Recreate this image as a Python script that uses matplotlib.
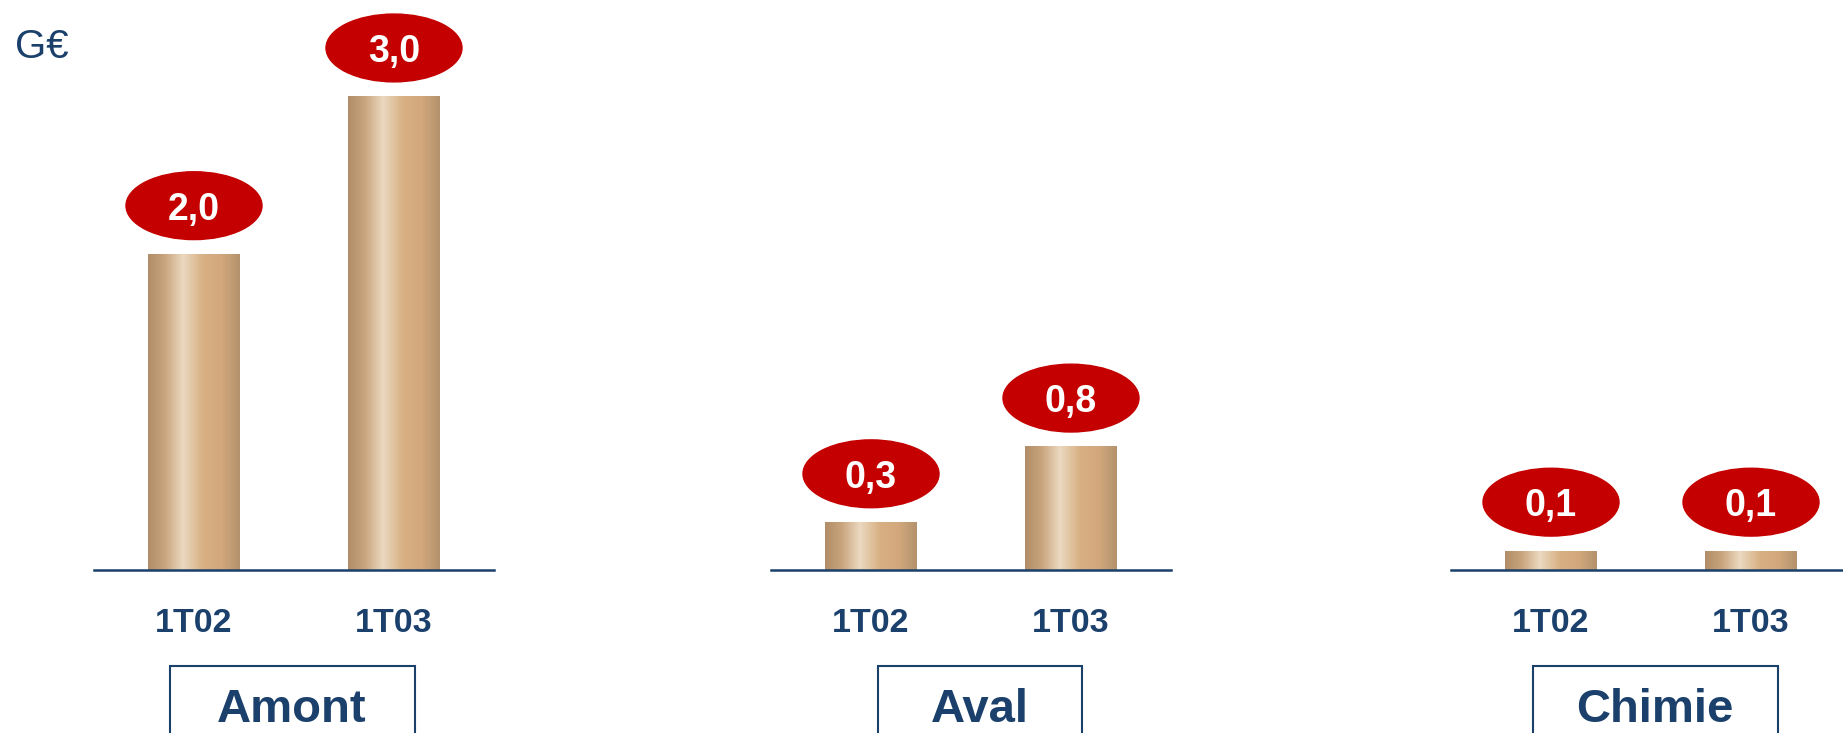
import matplotlib.pyplot as plt
import numpy as np
from matplotlib.colors import LinearSegmentedColormap
from matplotlib.patches import Ellipse, Rectangle

plt.rcParams['font.family'] = ['Liberation Sans', 'DejaVu Sans']

# data (G€)
segments = ["Amont", "Aval", "Chimie"]
periods = ["1T02", "1T03"]
amont = [2.0, 3.0]
aval = [0.3, 0.78]
chimie = [0.12, 0.12]
amont_lbl = ["2,0", "3,0"]
aval_lbl = ["0,3", "0,8"]
chimie_lbl = ["0,1", "0,1"]
series = [amont, aval, chimie]
labels = [amont_lbl, aval_lbl, chimie_lbl]

navy = "#1A406B"
red = "#C40000"
bar_cmap = LinearSegmentedColormap.from_list(
    "tan", [(0.0, "#B18E69"), (0.18, "#C9A47C"), (0.38, "#EBD9C0"),
            (0.6, "#D8B084"), (0.8, "#D2A87C"), (1.0, "#B4926D")])
grad = np.linspace(0, 1, 256).reshape(1, -1)

W, H = 1843, 733
fig = plt.figure(figsize=(W / 100, H / 100), dpi=100)

panel_left = [94, 771, 1451]
axis_y = 570          # px from top
box_cx = [292, 980, 1655]
box_w = [245, 204, 245]

for i, seg in enumerate(segments):
    ax = fig.add_axes([panel_left[i] / W, (H - axis_y) / H, 400 / W, 552 / H])
    x = np.arange(len(periods))
    bars = ax.bar(x, series[i], width=0.46, color="none", zorder=2)
    for b, v, lbl in zip(bars, series[i], labels[i]):
        x0, w = b.get_x(), b.get_width()
        ax.imshow(grad, extent=[x0, x0 + w, 0, v], aspect="auto",
                  cmap=bar_cmap, zorder=1)
        cx = x0 + w / 2
        ax.add_patch(Ellipse((cx, v + 0.31), 0.68, 0.43, color=red,
                             clip_on=False, zorder=3))
        ax.text(cx, v + 0.31, lbl, color="white", fontsize=27,
                fontweight="bold", ha="center", va="center_baseline",
                zorder=4, clip_on=False)
    ax.set_xlim(-0.5, 1.5)
    ax.set_ylim(0, 3.5)
    ax.set_xticks(x, periods)
    ax.tick_params(axis="x", length=0, pad=27, labelsize=24.5,
                   labelcolor=navy)
    for t in ax.get_xticklabels():
        t.set_fontweight("bold")
    ax.set_yticks([])
    for s in ["top", "left", "right"]:
        ax.spines[s].set_visible(False)
    ax.spines["bottom"].set_color(navy)
    ax.spines["bottom"].set_linewidth(1.8)
    ax.patch.set_visible(False)

    # segment name box
    fig.add_artist(Rectangle(((box_cx[i] - box_w[i] / 2) / W, -0.1),
                             box_w[i] / W, 0.1 + (H - 666) / H,
                             transform=fig.transFigure, fill=False,
                             edgecolor=navy, linewidth=1.5))
    fig.text(box_cx[i] / W, (H - 722) / H, seg, color=navy, fontsize=34,
             fontweight="bold", ha="center", va="baseline")

fig.text(15 / W, (H - 58) / H, "G€", color=navy, fontsize=29,
         ha="left", va="baseline")

fig.savefig("out.png", dpi=100)
